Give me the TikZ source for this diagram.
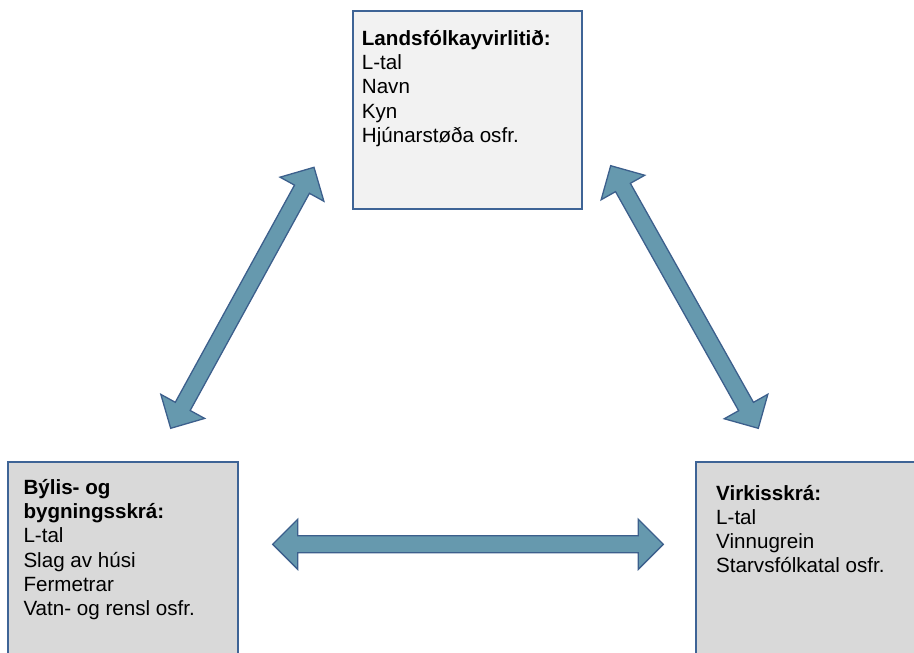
\documentclass[tikz,border=0pt]{standalone}
\usepackage{fontspec}
\setmainfont{Liberation Sans}
\usetikzlibrary{calc}
\definecolor{boxline}{RGB}{62,100,150}
\definecolor{arrowfill}{RGB}{102,153,174}
\definecolor{arrowline}{RGB}{60,95,140}
\definecolor{topfill}{RGB}{242,242,242}
\definecolor{botfill}{RGB}{217,217,217}
\tikzset{
  box/.style={draw=boxline, line width=1.6pt, rectangle, inner sep=0pt, anchor=north west},
  boxtext/.style={anchor=base west, align=left, inner sep=0pt, font=\fontsize{20.6}{24.2}\selectfont},
  blockarrow/.style={fill=arrowfill, draw=arrowline, line width=1.3pt, line join=miter},
}
\newcommand\dblblockarrow[2]{%
  \filldraw[blockarrow] (#1)
    -- ($(#1)!25pt!(#2)!25pt!90:(#2)$)
    -- ($(#1)!25pt!(#2)!8.5pt!90:(#2)$)
    -- ($(#2)!25pt!(#1)!8.5pt!-90:(#1)$)
    -- ($(#2)!25pt!(#1)!25pt!-90:(#1)$)
    -- (#2)
    -- ($(#2)!25pt!(#1)!25pt!90:(#1)$)
    -- ($(#2)!25pt!(#1)!8.5pt!90:(#1)$)
    -- ($(#1)!25pt!(#2)!8.5pt!-90:(#2)$)
    -- ($(#1)!25pt!(#2)!25pt!-90:(#2)$)
    -- cycle;}
\begin{document}
\begin{tikzpicture}[x=1pt,y=-1pt]
\useasboundingbox (0,0) rectangle (914,653);
\clip (0,0) rectangle (914,653);
% boxes
\node[box, fill=topfill, minimum width=229pt, minimum height=198pt] (top) at (352,10) {};
\node[box, fill=botfill, minimum width=229.7pt, minimum height=260pt] (left) at (7.3,461) {};
\node[box, fill=botfill, minimum width=300pt, minimum height=260pt] (right) at (695,461) {};
% texts (base anchor = baseline of last line)
\node[boxtext] (toptext) at (361.7,142.3) {\textbf{Landsfólkayvirlitið:}\\L-tal\\Navn\\Kyn\\Hjúnarstøða osfr.};
\node[boxtext] (lefttext) at (23.3,615.4) {\textbf{Býlis- og}\\\textbf{bygningsskrá:}\\L-tal\\Slag av húsi\\Fermetrar\\Vatn- og rensl osfr.};
\node[boxtext] (righttext) at (716,572.6) {\textbf{Virkisskrá:}\\L-tal\\Vinnugrein\\Starvsfólkatal osfr.};
% arrow tips
\coordinate (lA) at (314,167.3);
\coordinate (lB) at (170.7,428.3);
\coordinate (rA) at (610.7,165.7);
\coordinate (rB) at (758.3,428.3);
\coordinate (hA) at (272.7,544.3);
\coordinate (hB) at (663.3,544.3);
\dblblockarrow{lA}{lB}
\dblblockarrow{rA}{rB}
\dblblockarrow{hA}{hB}
\end{tikzpicture}
\end{document}
